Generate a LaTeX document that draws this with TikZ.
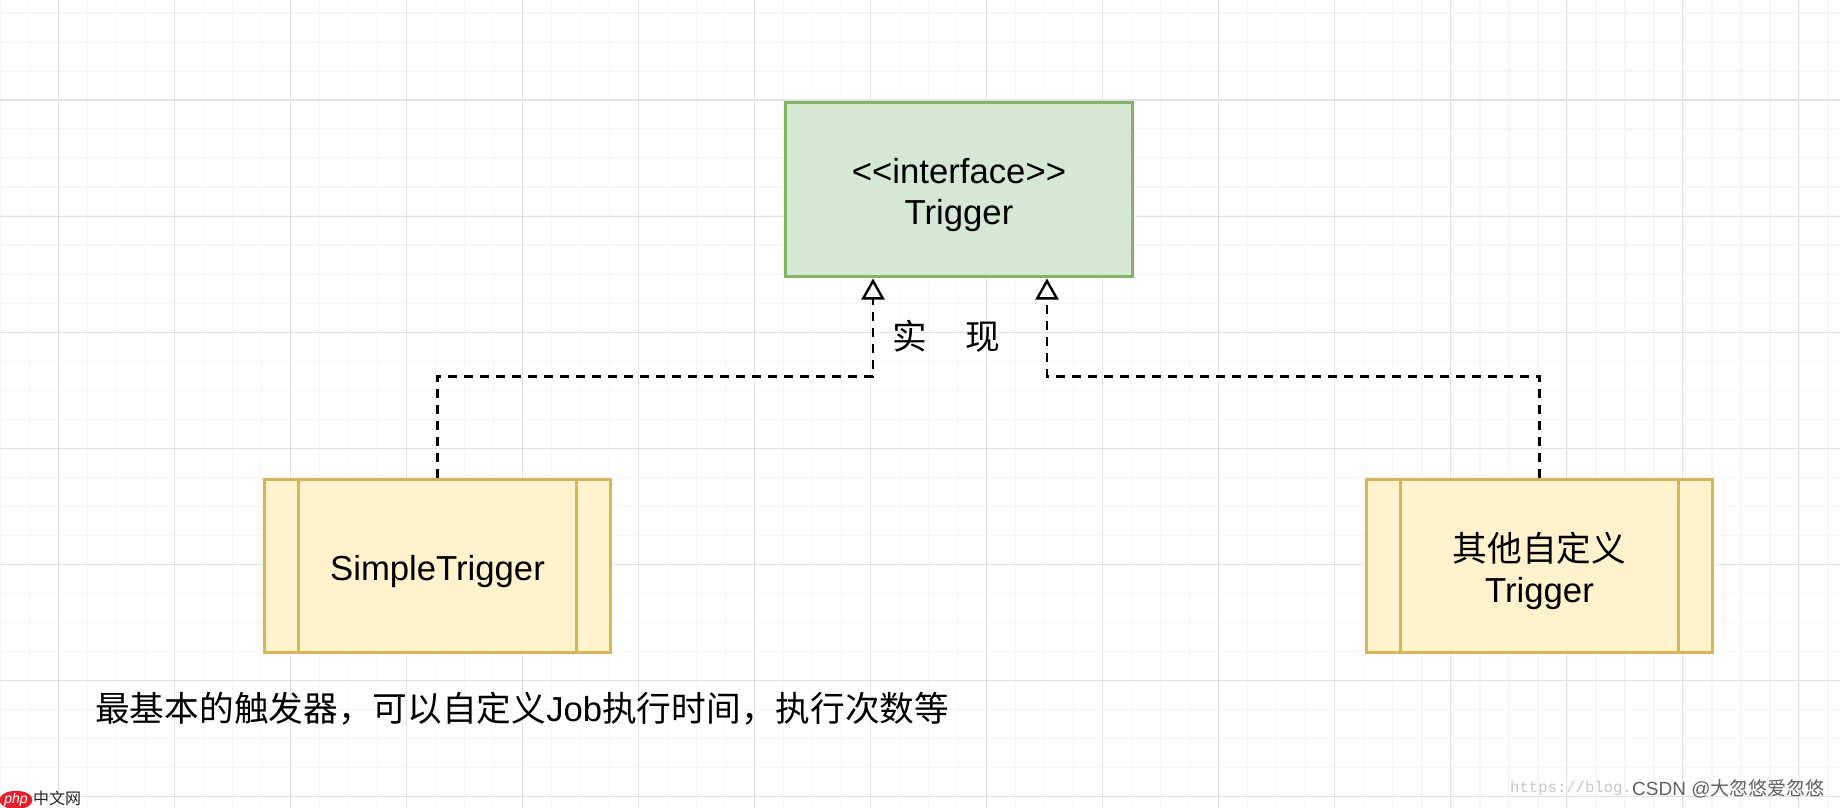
\documentclass[tikz,border=0pt]{standalone}
\usepackage{fontspec}
\setmainfont{Liberation Sans}
\setmonofont{Liberation Mono}
\newfontfamily\cjk{Noto Sans CJK SC}
\usetikzlibrary{calc,arrows.meta,shapes.geometric}

\definecolor{greenfill}{HTML}{D5E8D4}
\definecolor{greenline}{HTML}{82B366}
\definecolor{yellowfill}{HTML}{FFF2CC}
\definecolor{yellowline}{HTML}{D6B656}
\definecolor{gridmajor}{HTML}{E2E2E2}
\definecolor{gridminor}{HTML}{F6F6F6}
\definecolor{phpred}{HTML}{E0202A}

\newcommand{\lowerlatin}{\rule{0pt}{37pt}}
\newcommand{\lowercjk}{\rule{0pt}{39pt}}
\newcommand{\widecomma}{\symbol{"FF0C}}

\tikzset{
  bigtext/.style={font=\fontsize{34.7}{41}\selectfont,align=center},
  interfacebox/.style={draw=greenline,fill=greenfill,line width=2.6pt,minimum width=347pt,minimum height=174pt,bigtext},
  classbox/.style={draw=yellowline,fill=yellowfill,line width=3pt,minimum width=346.5pt,minimum height=173.5pt,bigtext},
  implements/.style={draw=black,line width=2.4pt,dash pattern=on 9pt off 7pt,-{Triangle[open,length=21pt,width=23pt,line width=2.4pt]}},
  plainlabel/.style={inner sep=0pt,bigtext}
}

\begin{document}
\begin{tikzpicture}[x=1pt,y=-1pt]
\useasboundingbox (0,0) rectangle (1840,808);
\fill[white] (0,0) rectangle (1840,808);

% grid
\foreach \i in {0,...,63} \draw[gridminor,line width=1.4pt] ({0.3+29.01*\i},0) -- ++(0,808);
\foreach \i in {0,...,27} \draw[gridminor,line width=1.4pt] (0,{13+29.02*\i}) -- ++(1840,0);
\foreach \i in {0,...,15} \draw[gridmajor,line width=1.1pt] ({58.3+116.03*\i},0) -- ++(0,808);
\foreach \i in {0,...,6} \draw[gridmajor,line width=1.1pt] (0,{100+116.08*\i}) -- ++(1840,0);

% boxes
\node[interfacebox] (trigger) at (959,189.5) {\lowerlatin <\kern0pt<interface>\kern0pt>\\Trigger};
\node[classbox] (simple) at (437.5,566) {\lowerlatin SimpleTrigger};
\node[classbox] (custom) at (1539.5,566) {\lowercjk{\cjk 其他自定义}\\Trigger};
\foreach \n in {simple,custom} {
  \draw[yellowline,line width=3pt] ($(\n.north west)+(35.5,0)$) -- ($(\n.south west)+(35.5,0)$);
  \draw[yellowline,line width=3pt] ($(\n.north east)+(-35.5,0)$) -- ($(\n.south east)+(-35.5,0)$);
}

% implements
\coordinate (portleft) at (873,278.5);
\coordinate (portright) at (1047,278.5);
\coordinate (bendleft) at (873,376.5);
\coordinate (bendright) at (1047,376.5);
\draw[implements] (simple.north) |- (bendleft) -- (portleft);
\draw[implements] (custom.north) |- (bendright) -- (portright);

% labels
\node[plainlabel] (implword) at (946.5,336) {{\cjk 实\hspace{39pt}现}};
\node[plainlabel,anchor=west] (note) at (95,709) {{\cjk 最基本的触发器\widecomma 可以自定义}Job{\cjk 执行时间\widecomma 执行次数等}};

% watermarks
\node[inner sep=0pt,anchor=west,text=black!22,font=\ttfamily\fontsize{15.6}{16}\selectfont] (urlmark) at (1510,788) {https://blog.};
\node[inner sep=0pt,anchor=west,text=black!62,font=\fontsize{19}{19}\selectfont] (csdnmark) at (1632,789) {CSDN @{\cjk 大忽悠爱忽悠}};
\node[ellipse,fill=phpred,inner sep=0pt,minimum width=30pt,minimum height=16pt,text=white,font=\itshape\fontsize{14}{14}\selectfont] (phplogo) at (16,800) {php};
\node[inner sep=0pt,anchor=west,text=black!85,font=\cjk\fontsize{16}{16}\selectfont] (phpname) at (33,798.5) {中文网};
\end{tikzpicture}
\end{document}
